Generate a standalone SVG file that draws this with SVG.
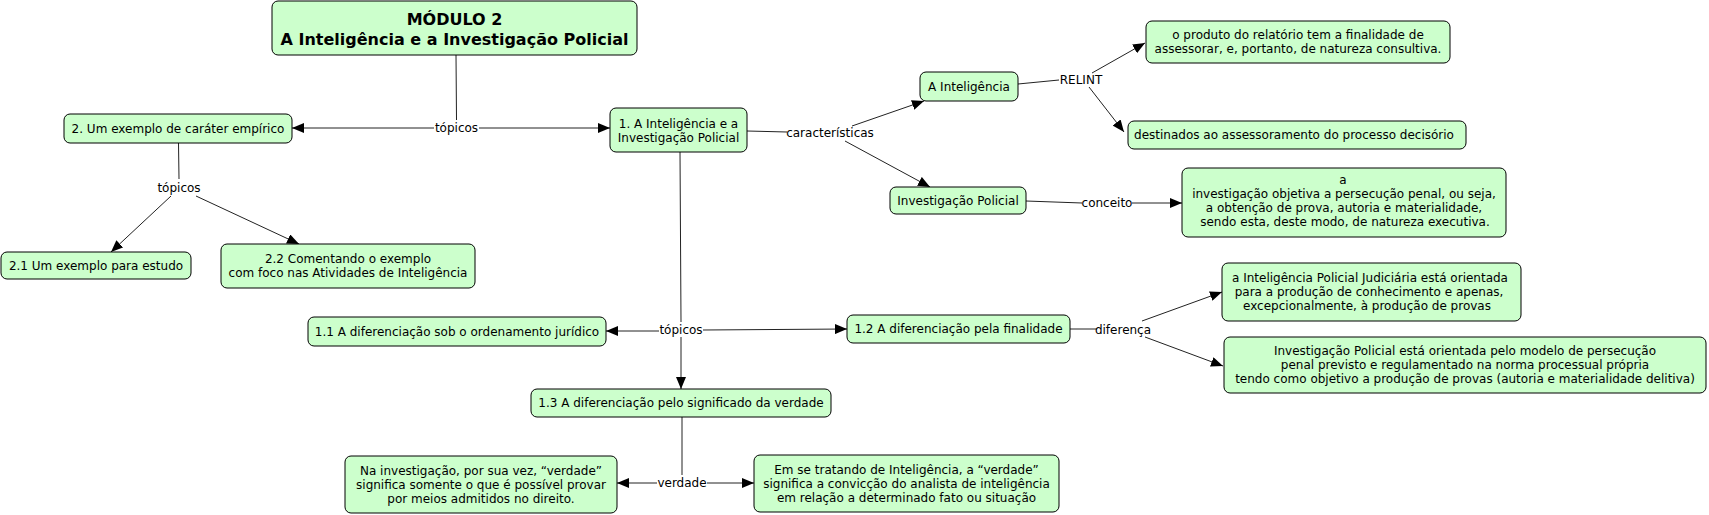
<svg xmlns="http://www.w3.org/2000/svg" width="1709" height="515" viewBox="0 0 1709 515">
<style>
.n rect{fill:#ccffcc;stroke:#000;stroke-width:1}
text{font-family:"DejaVu Sans",Verdana,sans-serif;font-size:12px;fill:#000;text-anchor:middle}
.t text{font-weight:bold;font-size:16px}
.c line,.c polyline{stroke:#222;stroke-width:1;fill:none}
.a{marker-end:url(#ah)}
</style>
<defs>
<marker id="ah" markerUnits="userSpaceOnUse" markerWidth="12" markerHeight="10" refX="12" refY="5" orient="auto" viewBox="0 0 12 10">
<path d="M0,0 L12,5 L0,10 z" fill="#000"/>
</marker>
</defs>
<rect width="1709" height="515" fill="#fff"/>
<g class="c" id="connectors">
<line x1="456" y1="55" x2="456.5" y2="120"/>
<line class="a" x1="434" y1="128" x2="292" y2="128"/>
<line class="a" x1="479" y1="128" x2="610" y2="128"/>
<line x1="178.5" y1="143" x2="179" y2="179"/>
<line class="a" x1="171" y1="196" x2="111" y2="252"/>
<line class="a" x1="196" y1="196" x2="299" y2="244"/>
<line x1="747" y1="131" x2="787" y2="132"/>
<line class="a" x1="852" y1="126" x2="924" y2="101"/>
<line class="a" x1="845" y1="141" x2="930" y2="187"/>
<line x1="1018" y1="84" x2="1059" y2="80"/>
<line class="a" x1="1092" y1="73" x2="1145" y2="43"/>
<line class="a" x1="1089" y1="87" x2="1124" y2="132"/>
<line x1="1026" y1="201" x2="1082" y2="203"/>
<line class="a" x1="1132" y1="203" x2="1182" y2="203"/>
<line x1="680" y1="152" x2="681" y2="322"/>
<line class="a" x1="659" y1="331" x2="606" y2="331"/>
<line class="a" x1="703" y1="330" x2="847" y2="329"/>
<line class="a" x1="681" y1="337" x2="681" y2="389"/>
<line x1="682" y1="417" x2="682" y2="475"/>
<line class="a" x1="657" y1="483" x2="617" y2="483"/>
<line class="a" x1="707" y1="483" x2="754" y2="483"/>
<line x1="1070" y1="329" x2="1097" y2="329"/>
<line class="a" x1="1142" y1="321" x2="1222" y2="292"/>
<line class="a" x1="1145" y1="337" x2="1223" y2="366"/>
</g>
<g id="labels">
<text x="456.5" y="132">tópicos</text>
<text x="179" y="192">tópicos</text>
<text x="830" y="137">características</text>
<text x="1081" y="84">RELINT</text>
<text x="1107" y="207">conceito</text>
<text x="681" y="334">tópicos</text>
<text x="682" y="487">verdade</text>
<text x="1123" y="334">diferença</text>
</g>
<g class="n t" id="title">
<rect x="272" y="1" width="365" height="54" rx="6"/>
<text x="454.5" y="25">MÓDULO 2</text>
<text x="454.5" y="45">A Inteligência e a Investigação Policial</text>
</g>
<g class="n" id="n2">
<rect x="64" y="114" width="228" height="29" rx="6"/>
<text x="178" y="133">2. Um exemplo de caráter empírico</text>
</g>
<g class="n" id="n21">
<rect x="1" y="252" width="190" height="27" rx="6"/>
<text x="96" y="270">2.1 Um exemplo para estudo</text>
</g>
<g class="n" id="n22">
<rect x="221" y="244" width="254" height="44" rx="6"/>
<text x="348" y="263">2.2 Comentando o exemplo</text>
<text x="348" y="277">com foco nas Atividades de Inteligência</text>
</g>
<g class="n" id="n1">
<rect x="610" y="108" width="137" height="44" rx="6"/>
<text x="678.5" y="128">1. A Inteligência e a</text>
<text x="678.5" y="142">Investigação Policial</text>
</g>
<g class="n" id="nA">
<rect x="920" y="72" width="98" height="29" rx="6"/>
<text x="969" y="91">A Inteligência</text>
</g>
<g class="n" id="nIP">
<rect x="890" y="187" width="136" height="27" rx="6"/>
<text x="958" y="205">Investigação Policial</text>
</g>
<g class="n" id="n7">
<rect x="1146" y="21" width="304" height="42" rx="6"/>
<text x="1298" y="39">o produto do relatório tem a finalidade de</text>
<text x="1298" y="53">assessorar, e, portanto, de natureza consultiva.</text>
</g>
<g class="n" id="n8">
<rect x="1128" y="121" width="338" height="28" rx="6"/>
<text x="1294" y="139">destinados ao assessoramento do processo decisório</text>
</g>
<g class="n" id="n9">
<rect x="1182" y="168" width="324" height="69" rx="6"/>
<text x="1343" y="184">a</text>
<text x="1344" y="198">investigação objetiva a persecução penal, ou seja,</text>
<text x="1344" y="212">a obtenção de prova, autoria e materialidade,</text>
<text x="1345" y="226">sendo esta, deste modo, de natureza executiva.</text>
</g>
<g class="n" id="n11">
<rect x="308" y="317" width="298" height="29" rx="6"/>
<text x="457" y="336">1.1 A diferenciação sob o ordenamento jurídico</text>
</g>
<g class="n" id="n12">
<rect x="847" y="315" width="223" height="28" rx="6"/>
<text x="958.5" y="333">1.2 A diferenciação pela finalidade</text>
</g>
<g class="n" id="n13">
<rect x="531" y="389" width="300" height="28" rx="6"/>
<text x="681" y="407">1.3 A diferenciação pelo significado da verdade</text>
</g>
<g class="n" id="nNa">
<rect x="345" y="456" width="272" height="57" rx="6"/>
<text x="481" y="475">Na investigação, por sua vez, “verdade”</text>
<text x="481" y="489">significa somente o que é possível provar</text>
<text x="481" y="503">por meios admitidos no direito.</text>
</g>
<g class="n" id="nEm">
<rect x="754" y="455" width="305" height="57" rx="6"/>
<text x="906.5" y="474">Em se tratando de Inteligência, a “verdade”</text>
<text x="906.5" y="488">significa a convicção do analista de inteligência</text>
<text x="906.5" y="502">em relação a determinado fato ou situação</text>
</g>
<g class="n" id="nJ">
<rect x="1222" y="263" width="299" height="58" rx="6"/>
<text x="1370" y="282">a Inteligência Policial Judiciária está orientada</text>
<text x="1369" y="296">para a produção de conhecimento e apenas,</text>
<text x="1367" y="310">excepcionalmente, à produção de provas</text>
</g>
<g class="n" id="nIP2">
<rect x="1224" y="337" width="482" height="56" rx="6"/>
<text x="1465" y="355">Investigação Policial está orientada pelo modelo de persecução</text>
<text x="1465" y="369">penal previsto e regulamentado na norma processual própria</text>
<text x="1465" y="383">tendo como objetivo a produção de provas (autoria e materialidade delitiva)</text>
</g>
</svg>
